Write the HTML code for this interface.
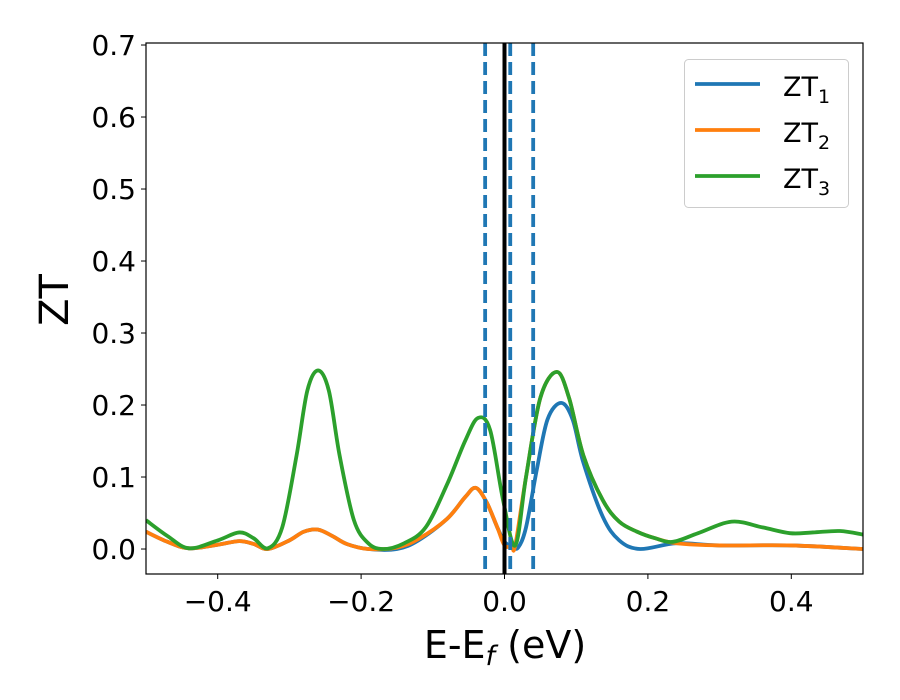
<!DOCTYPE html>
<html><head><meta charset="utf-8"><style>
body{margin:0;background:#fff;position:relative;width:900px;height:700px;overflow:hidden}
#chart{position:absolute;left:0;top:0}
svg text{font-family:"DejaVu Sans","Liberation Sans",sans-serif;fill:#000;}
</style></head><body>
<svg id="chart" width="900" height="700" xmlns="http://www.w3.org/2000/svg">
<rect width="900" height="700" fill="#fff"/>
<g id="plot"></g>
<g id="axes"></g>
</svg>
<script>
const xTicks=[-0.4,-0.2,0.0,0.2,0.4];
const xTickLabels=["−0.4","−0.2","0.0","0.2","0.4"];
const yTicks=[0,0.1,0.2,0.3,0.4,0.5,0.6,0.7];
const yTickLabels=["0.0","0.1","0.2","0.3","0.4","0.5","0.6","0.7"];
const dashedX=[-0.027,0.008,0.04];
const zt1X=[-0.5,-0.47,-0.44,-0.4,-0.37,-0.35,-0.33,-0.3,-0.28,-0.26,-0.24,-0.22,-0.19,-0.15,-0.12,-0.08,-0.055,-0.04,-0.025,-0.01,0.0,0.01,0.019,0.03,0.045,0.06,0.079,0.095,0.11,0.137,0.16,0.189,0.24,0.3,0.4,0.5];
const zt1Y=[0.024,0.01,0.001,0.006,0.011,0.007,0.0,0.012,0.024,0.027,0.018,0.007,0.0,0.0,0.012,0.042,0.072,0.085,0.065,0.03,0.01,0.004,0.002,0.03,0.11,0.18,0.203,0.18,0.12,0.045,0.012,0.0,0.008,0.005,0.005,0.0];
const zt2X=[-0.5,-0.47,-0.44,-0.4,-0.37,-0.35,-0.33,-0.3,-0.28,-0.26,-0.24,-0.22,-0.19,-0.15,-0.12,-0.08,-0.055,-0.04,-0.025,-0.01,0.0,0.01,0.015,0.03,0.05,0.073,0.09,0.11,0.137,0.16,0.185,0.21,0.24,0.3,0.4,0.5];
const zt2Y=[0.024,0.01,0.001,0.006,0.011,0.007,0.0,0.012,0.024,0.027,0.018,0.007,0.0,0.002,0.014,0.042,0.072,0.085,0.065,0.03,0.005,0.004,0.005,0.1,0.21,0.246,0.21,0.13,0.068,0.038,0.024,0.015,0.008,0.005,0.005,0.0];
const zt3X=[-0.5,-0.47,-0.44,-0.4,-0.37,-0.35,-0.33,-0.31,-0.29,-0.275,-0.26,-0.245,-0.23,-0.21,-0.19,-0.169,-0.14,-0.11,-0.08,-0.055,-0.037,-0.02,-0.002,0.015,0.03,0.05,0.073,0.09,0.11,0.137,0.16,0.185,0.21,0.235,0.27,0.317,0.36,0.398,0.43,0.468,0.5];
const zt3Y=[0.04,0.018,0.001,0.012,0.023,0.015,0.001,0.03,0.13,0.22,0.248,0.22,0.13,0.04,0.008,0.0,0.008,0.03,0.09,0.15,0.182,0.165,0.068,0.005,0.1,0.21,0.246,0.21,0.13,0.068,0.038,0.024,0.015,0.01,0.022,0.038,0.03,0.022,0.023,0.025,0.02];
const X0=146,X1=863,Y0=574,Y1=43,XMIN=-0.5,XMAX=0.5,YMIN=-0.0347,YMAX=0.7028;
const xs=v=>X0+(v-XMIN)/(XMAX-XMIN)*(X1-X0);
const ys=v=>Y0-(v-YMIN)/(YMAX-YMIN)*(Y0-Y1);
const NS="http://www.w3.org/2000/svg";
const plot=document.getElementById('plot'),axes=document.getElementById('axes');
function mk(tag,attrs,parent){const e=document.createElementNS(NS,tag);for(const k in attrs)e.setAttribute(k,attrs[k]);parent.appendChild(e);return e;}
function pathFor(X,Y){const p=X.map((x,i)=>[xs(x),ys(Y[i])]);let d=`M${p[0][0]},${p[0][1]}`;
for(let i=0;i<p.length-1;i++){const a=p[Math.max(i-1,0)],b=p[i],c=p[i+1],e=p[Math.min(i+2,p.length-1)];
d+=` C${b[0]+(c[0]-a[0])/6},${b[1]+(c[1]-a[1])/6} ${c[0]-(e[0]-b[0])/6},${c[1]-(e[1]-b[1])/6} ${c[0]},${c[1]}`;}return d;}
const cp=mk('clipPath',{id:'clip'},plot);mk('rect',{x:X0,y:Y1,width:X1-X0,height:Y0-Y1},cp);
const g=mk('g',{'clip-path':'url(#clip)'},plot);
const series=[[zt1X,zt1Y,'#1f77b4','zt1-line'],[zt2X,zt2Y,'#ff7f0e','zt2-line'],[zt3X,zt3Y,'#2ca02c','zt3-line']];
series.forEach(s=>{const e=mk('path',{d:pathFor(s[0],s[1]),fill:'none',stroke:s[2],'stroke-width':3.8,'stroke-linejoin':'round'},g);

});
dashedX.forEach(v=>{const e=mk('line',{x1:xs(v),x2:xs(v),y1:Y1,y2:Y0,stroke:'#1f77b4','stroke-width':3.8,'stroke-dasharray':'13,6'},g);

});
const fl=mk('line',{x1:xs(0),x2:xs(0),y1:Y1,y2:Y0,stroke:'#000','stroke-width':4},g);


const fr=mk('rect',{x:X0,y:Y1,width:X1-X0,height:Y0-Y1,fill:'none',stroke:'#000','stroke-width':1.2},axes);


xTicks.forEach((v,i)=>{mk('line',{x1:xs(v),x2:xs(v),y1:Y0,y2:Y0+5,stroke:'#000','stroke-width':1},axes);
const t=mk('text',{x:xs(v),y:Y0+37,'font-size':28,'text-anchor':'middle'},axes);t.textContent=xTickLabels[i];

});
yTicks.forEach((v,i)=>{mk('line',{x1:X0-5,x2:X0,y1:ys(v),y2:ys(v),stroke:'#000','stroke-width':1},axes);
const t=mk('text',{x:X0-10,y:ys(v)+10,'font-size':28,'text-anchor':'end'},axes);t.textContent=yTickLabels[i];

});
</script>
<svg width="900" height="700" style="position:absolute;left:0;top:0" xmlns="http://www.w3.org/2000/svg">
<text x="505" y="658" font-size="38" text-anchor="middle">E-E<tspan font-style="italic" font-size="27" dy="7">f</tspan><tspan dy="-7"> (eV)</tspan></text>
<text transform="translate(68,300) rotate(-90)" font-size="40" text-anchor="middle">ZT</text>
<g>
<rect x="684.5" y="59.5" width="164" height="148" rx="4" fill="#fff" fill-opacity="0.8" stroke="#ccc" stroke-width="1"/>
<line x1="695" x2="760" y1="84" y2="84" stroke="#1f77b4" stroke-width="3.8"/>
<text x="783" y="96" font-size="27">ZT<tspan font-size="19" dy="7">1</tspan></text>
<line x1="695" x2="760" y1="130" y2="130" stroke="#ff7f0e" stroke-width="3.8"/>
<text x="783" y="142" font-size="27">ZT<tspan font-size="19" dy="7">2</tspan></text>
<line x1="695" x2="760" y1="176" y2="176" stroke="#2ca02c" stroke-width="3.8"/>
<text x="783" y="188" font-size="27">ZT<tspan font-size="19" dy="7">3</tspan></text>
</g>
</svg>
</body></html>
